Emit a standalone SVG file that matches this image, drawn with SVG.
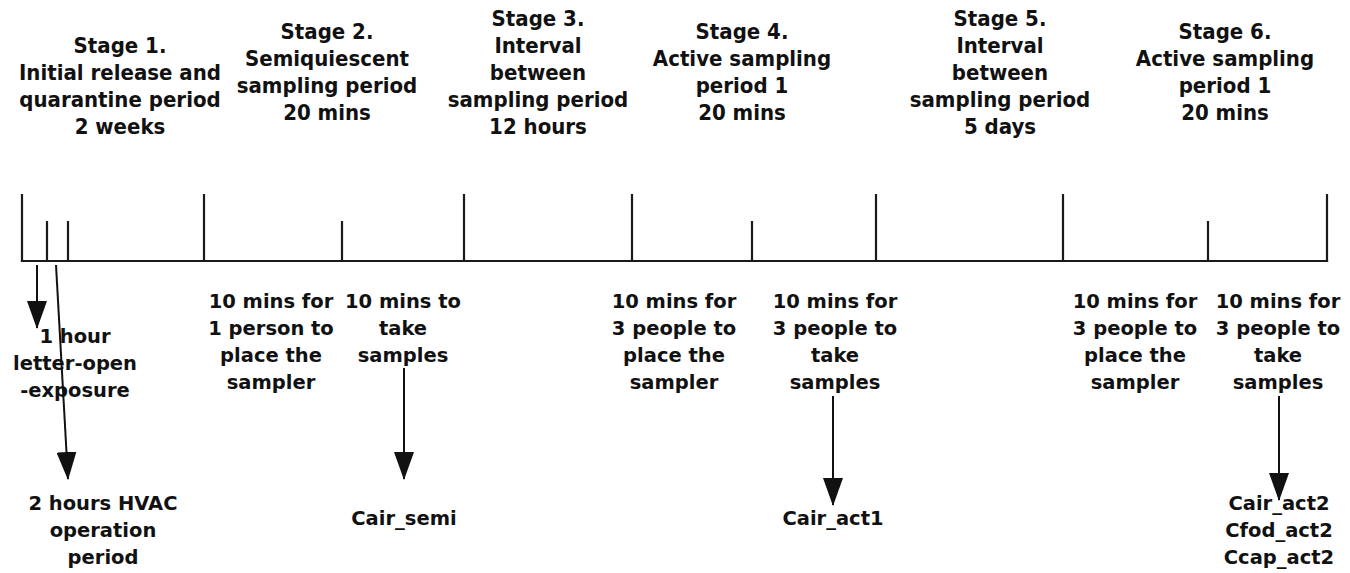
<svg xmlns="http://www.w3.org/2000/svg" width="1350" height="573" viewBox="0 0 1350 573">
  <style>
    .hd { font-family: "DejaVu Sans Condensed", "DejaVu Sans", sans-serif; font-weight: bold; font-size: 22px; fill: #111; text-anchor: middle; }
    .lb { font-family: "DejaVu Sans", "Verdana", sans-serif; font-weight: bold; font-size: 19.5px; fill: #111; text-anchor: middle; }
    .ax { stroke: #1a1a1a; stroke-width: 2.2; fill: none; stroke-linecap: square; }
    .ar { stroke: #111; stroke-width: 2; fill: none; marker-end: url(#head); }
  </style>
  <defs>
    <marker id="head" viewBox="0 0 28 20" refX="27" refY="10" markerWidth="28" markerHeight="20" markerUnits="userSpaceOnUse" orient="auto">
      <path d="M0,0 L28,10 L0,20 Z" fill="#111"/>
    </marker>
  </defs>
  <rect width="1350" height="573" fill="#fff"/>

  <!-- stage headings -->
  <g id="stage1">
    <text class="hd" x="120" y="53">Stage 1.</text>
    <text class="hd" x="120" y="80">Initial release and</text>
    <text class="hd" x="120" y="107">quarantine period</text>
    <text class="hd" x="120" y="134">2 weeks</text>
  </g>
  <g id="stage2">
    <text class="hd" x="327" y="39">Stage 2.</text>
    <text class="hd" x="327" y="66">Semiquiescent</text>
    <text class="hd" x="327" y="93">sampling period</text>
    <text class="hd" x="327" y="120">20 mins</text>
  </g>
  <g id="stage3">
    <text class="hd" x="538" y="26">Stage 3.</text>
    <text class="hd" x="538" y="53">Interval</text>
    <text class="hd" x="538" y="80">between</text>
    <text class="hd" x="538" y="107">sampling period</text>
    <text class="hd" x="538" y="134">12 hours</text>
  </g>
  <g id="stage4">
    <text class="hd" x="742" y="39">Stage 4.</text>
    <text class="hd" x="742" y="66">Active sampling</text>
    <text class="hd" x="742" y="93">period 1</text>
    <text class="hd" x="742" y="120">20 mins</text>
  </g>
  <g id="stage5">
    <text class="hd" x="1000" y="26">Stage 5.</text>
    <text class="hd" x="1000" y="53">Interval</text>
    <text class="hd" x="1000" y="80">between</text>
    <text class="hd" x="1000" y="107">sampling period</text>
    <text class="hd" x="1000" y="134">5 days</text>
  </g>
  <g id="stage6">
    <text class="hd" x="1225" y="39">Stage 6.</text>
    <text class="hd" x="1225" y="66">Active sampling</text>
    <text class="hd" x="1225" y="93">period 1</text>
    <text class="hd" x="1225" y="120">20 mins</text>
  </g>

  <!-- time axis with stage boundaries and sub-period ticks -->
  <g id="timeline">
    <path class="ax" d="M22,261 H1327"/>
    <path class="ax" d="M22,195 V261 M204,195 V261 M464,195 V261 M632,195 V261 M876,195 V261 M1063,195 V261 M1327,195 V261"/>
    <path class="ax" d="M47,222 V261 M68,222 V261 M342,222 V261 M752,222 V261 M1208,222 V261"/>
  </g>

  <!-- activity labels under the axis -->
  <g id="exposure">
    <text class="lb" x="75" y="343">1 hour</text>
    <text class="lb" x="75" y="370">letter-open</text>
    <text class="lb" x="75" y="397">-exposure</text>
  </g>
  <g id="hvac">
    <text class="lb" x="103" y="510">2 hours HVAC</text>
    <text class="lb" x="103" y="537">operation</text>
    <text class="lb" x="103" y="564">period</text>
  </g>
  <g id="place1">
    <text class="lb" x="271" y="308">10 mins for</text>
    <text class="lb" x="271" y="335">1 person to</text>
    <text class="lb" x="271" y="362">place the</text>
    <text class="lb" x="271" y="389">sampler</text>
  </g>
  <g id="take1">
    <text class="lb" x="403" y="308">10 mins to</text>
    <text class="lb" x="403" y="335">take</text>
    <text class="lb" x="403" y="362">samples</text>
  </g>
  <g id="place2">
    <text class="lb" x="674" y="308">10 mins for</text>
    <text class="lb" x="674" y="335">3 people to</text>
    <text class="lb" x="674" y="362">place the</text>
    <text class="lb" x="674" y="389">sampler</text>
  </g>
  <g id="take2">
    <text class="lb" x="835" y="308">10 mins for</text>
    <text class="lb" x="835" y="335">3 people to</text>
    <text class="lb" x="835" y="362">take</text>
    <text class="lb" x="835" y="389">samples</text>
  </g>
  <g id="place3">
    <text class="lb" x="1135" y="308">10 mins for</text>
    <text class="lb" x="1135" y="335">3 people to</text>
    <text class="lb" x="1135" y="362">place the</text>
    <text class="lb" x="1135" y="389">sampler</text>
  </g>
  <g id="take3">
    <text class="lb" x="1278" y="308">10 mins for</text>
    <text class="lb" x="1278" y="335">3 people to</text>
    <text class="lb" x="1278" y="362">take</text>
    <text class="lb" x="1278" y="389">samples</text>
  </g>

  <!-- measured concentrations -->
  <g id="cair-semi">
    <text class="lb" x="404" y="525">Cair_semi</text>
  </g>
  <g id="cair-act1">
    <text class="lb" x="833" y="525">Cair_act1</text>
  </g>
  <g id="act2">
    <text class="lb" x="1279" y="510">Cair_act2</text>
    <text class="lb" x="1279" y="537">Cfod_act2</text>
    <text class="lb" x="1279" y="564">Ccap_act2</text>
  </g>

  <!-- connectors -->
  <g id="connectors">
    <line class="ar" x1="37" y1="265" x2="37" y2="328"/>
    <line class="ar" x1="56" y1="265" x2="68" y2="479"/>
    <line class="ar" x1="404" y1="368" x2="404" y2="479"/>
    <line class="ar" x1="833" y1="396" x2="833" y2="505"/>
    <line class="ar" x1="1279" y1="396" x2="1279" y2="500"/>
  </g>
</svg>
